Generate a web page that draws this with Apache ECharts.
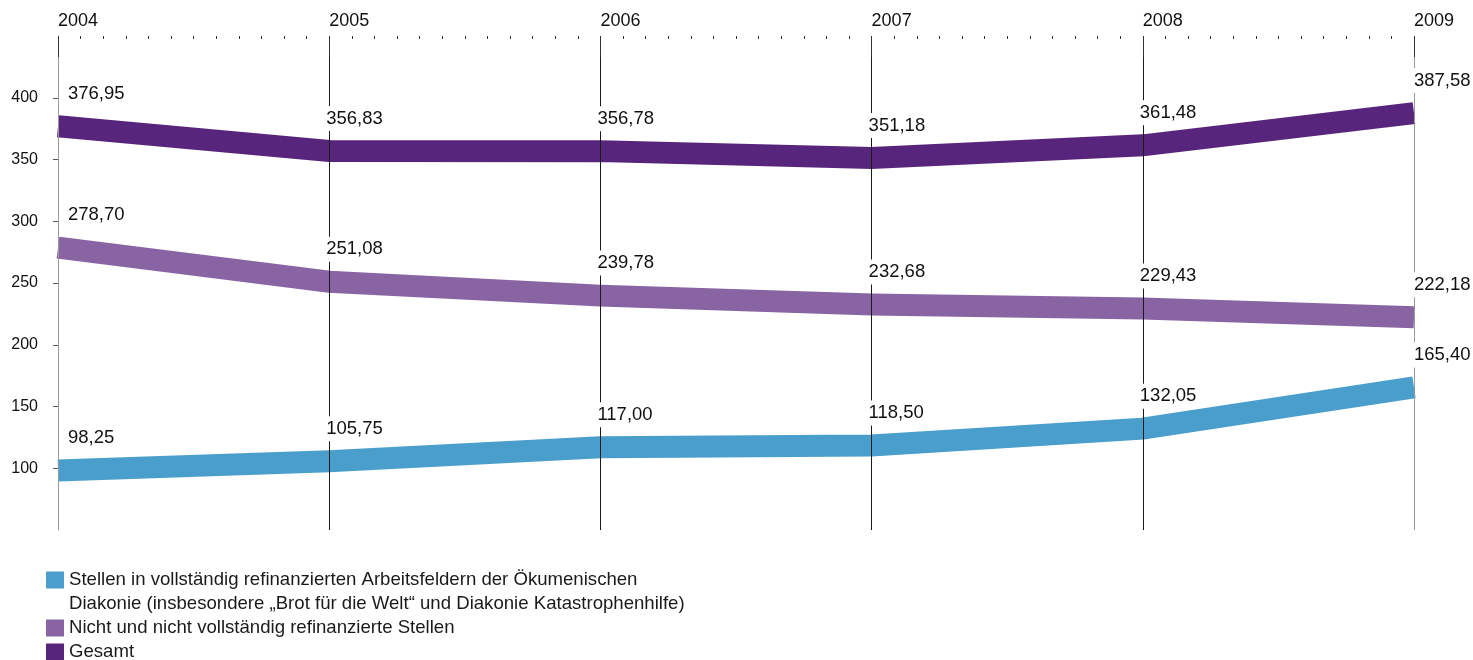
<!DOCTYPE html>
<html>
<head>
<meta charset="utf-8">
<script src="https://cdn.jsdelivr.net/npm/echarts@6/dist/echarts.min.js"></script>
<style>
  html, body { margin: 0; padding: 0; background: #fff; }
  #chart { width: 1473px; height: 660px; }
</style>
</head>
<body>
<div id="chart"></div>
<script>
// Stellen der Ökumenischen Diakonie, 2004–2009
const years = [2004, 2005, 2006, 2007, 2008, 2009];
const refinanziert = [98.25, 105.75, 117.00, 118.50, 132.05, 165.40];
const nichtRefinanziert = [278.70, 251.08, 239.78, 232.68, 229.43, 222.18];
const gesamt = [376.95, 356.83, 356.78, 351.18, 361.48, 387.58];

const seriesNames = [
  'Stellen in vollständig refinanzierten Arbeitsfeldern der Ökumenischen\nDiakonie (insbesondere „Brot für die Welt“ und Diakonie Katastrophenhilfe)',
  'Nicht und nicht vollständig refinanzierte Stellen',
  'Gesamt'
];
const yMin = 50, yMax = 450, yStep = 50;
const yTicks = [100, 150, 200, 250, 300, 350, 400];

const colors = ['#4a9ecc', '#8964a3', '#57267c'];
const FONT = '"Liberation Sans", Arial, Helvetica, sans-serif';

const toPairs = vals => vals.map((v, i) => [years[i], v]);
const fmt = v => v.toFixed(2).replace('.', ',');

function bandSeries(name, vals, color) {
  return {
    name: name,
    type: 'line',
    data: toPairs(vals),
    symbol: 'none',
    z: 2,
    color: color,
    lineStyle: { width: 22, color: color, cap: 'butt', join: 'miter' },
    emphasis: { disabled: true },
    animation: false
  };
}

// value labels sit on their own layer so they can mask the year lines
function labelSeries(id, vals) {
  const last = vals.length - 1;
  return {
    id: id,
    type: 'scatter',
    symbolSize: 0,
    z: 5,
    silent: true,
    animation: false,
    itemStyle: { opacity: 1 },
    data: vals.map((v, i) => ({
      value: [years[i], v],
      label: { offset: [i === 0 ? 8 : (i === last ? -2 : -5), 0] }
    })),
    label: {
      show: true,
      position: 'top',
      distance: 20,
      align: 'left',
      formatter: p => fmt(p.value[1]),
      fontFamily: FONT,
      fontSize: 18.5,
      lineHeight: 19,
      color: '#111',
      opacity: 1,
      backgroundColor: '#fff',
      padding: [3, 2]
    }
  };
}

const chart = echarts.init(document.getElementById('chart'), null, { renderer: 'canvas' });

chart.setOption({
  backgroundColor: '#fff',
  animation: false,
  textStyle: { fontFamily: FONT },
  grid: { left: 58, right: 59, top: 36, bottom: 130, containLabel: false },
  legend: {
    orient: 'vertical',
    left: 46,
    top: 544,
    padding: 0,
    itemGap: 0,
    itemWidth: 18,
    itemHeight: 17,
    icon: 'rect',
    selectedMode: false,
    data: seriesNames,
    formatter: name => (name.indexOf('\n') >= 0 ? '\n' + name : name),
    textStyle: { fontFamily: FONT, fontSize: 18.6, lineHeight: 24, color: '#1a1a1a' }
  },
  xAxis: {
    type: 'value',
    position: 'top',
    min: years[0],
    max: years[years.length - 1],
    interval: 1,
    z: 3,
    axisLine: { show: false },
    axisTick: { show: true, inside: true, length: 21, lineStyle: { color: '#333', width: 1 } },
    minorTick: { show: true, splitNumber: 12, length: 3, lineStyle: { color: '#333', width: 1 } },
    splitLine: {
      show: true,
      lineStyle: { color: ['#9a9a9a', '#1a1a1a', '#1a1a1a', '#1a1a1a', '#1a1a1a', '#9a9a9a'], width: 1 }
    },
    axisLabel: {
      formatter: v => String(v),
      align: 'left',
      margin: 6,
      fontFamily: FONT,
      fontSize: 18,
      color: '#111'
    }
  },
  yAxis: {
    type: 'value',
    min: yMin,
    max: yMax,
    interval: yStep,
    axisLine: { show: true, lineStyle: { color: '#9a9a9a', width: 1 } },
    axisTick: { show: true, length: 5, customValues: yTicks, lineStyle: { color: '#555' } },
    splitLine: { show: false },
    axisLabel: {
      margin: 20,
      customValues: yTicks,
      fontFamily: FONT,
      fontSize: 16,
      color: '#111',
      formatter: v => String(v)
    }
  },
  series: [
    bandSeries(seriesNames[0], refinanziert, colors[0]),
    bandSeries(seriesNames[1], nichtRefinanziert, colors[1]),
    bandSeries(seriesNames[2], gesamt, colors[2]),
    labelSeries('werte-refinanziert', refinanziert),
    labelSeries('werte-nicht-refinanziert', nichtRefinanziert),
    labelSeries('werte-gesamt', gesamt)
  ]
});
</script>
</body>
</html>
